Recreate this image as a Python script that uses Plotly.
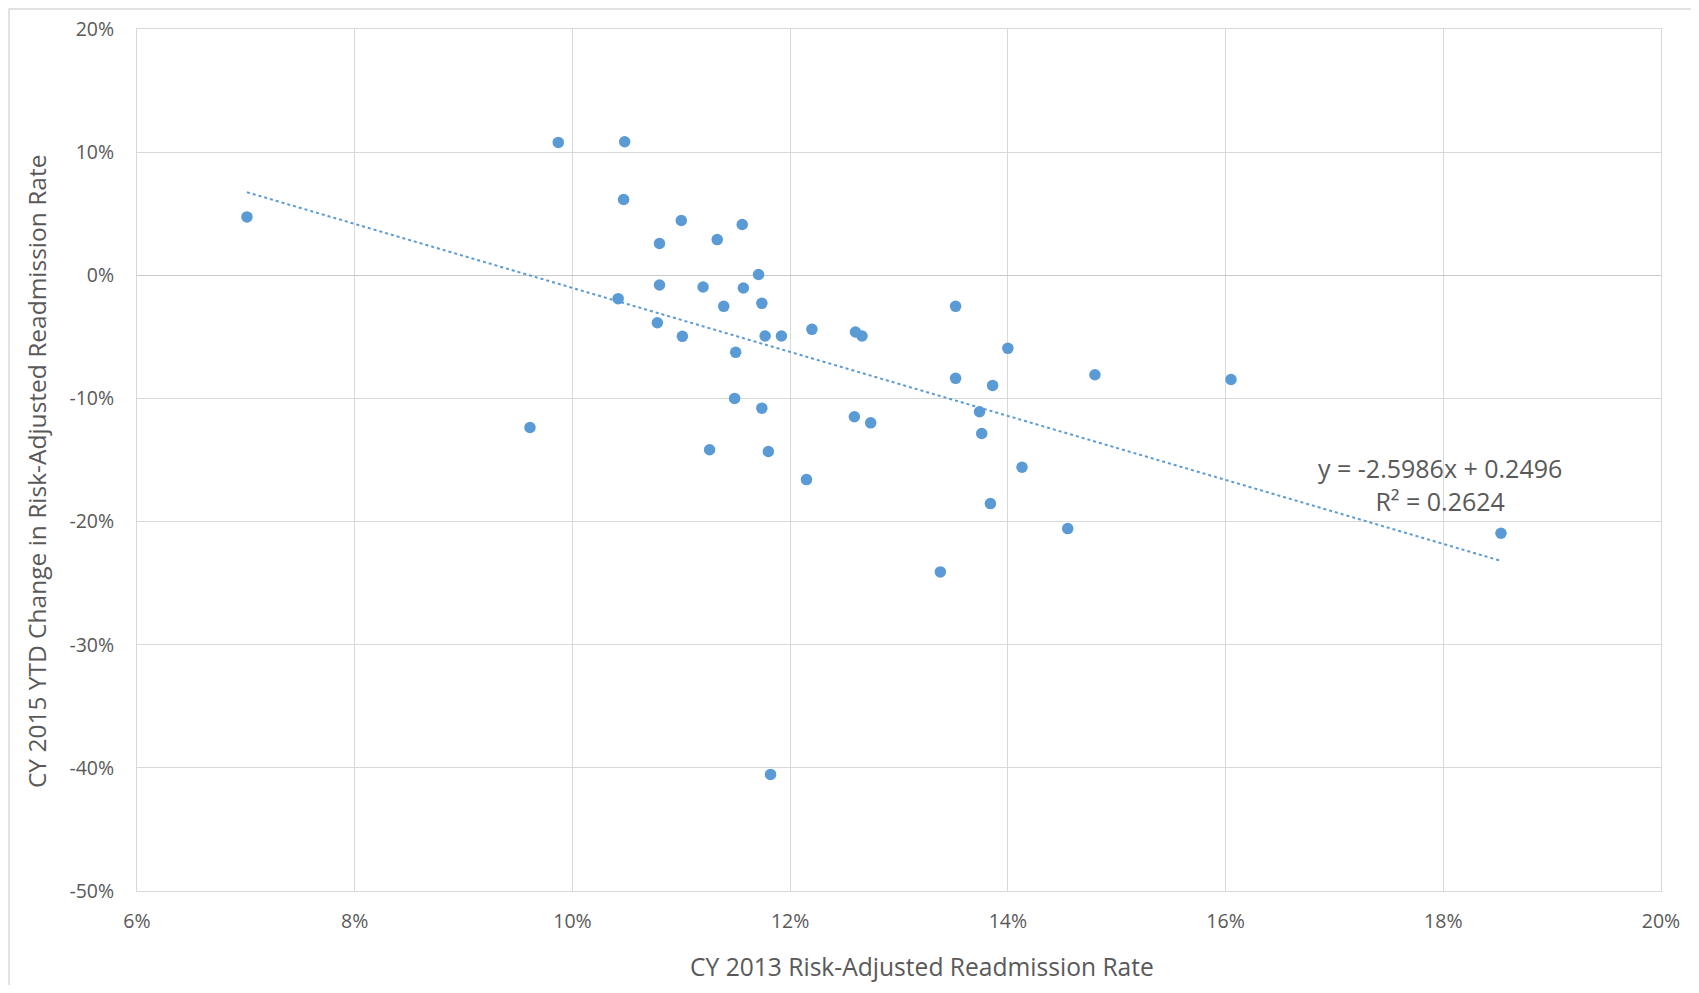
import numpy as np
import plotly.graph_objects as go

# CY 2013 risk-adjusted readmission rate (fraction)
rate_2013 = [
    0.0701, 0.0987, 0.1048, 0.1047, 0.1100, 0.1080, 0.1133, 0.1156, 0.1171,
    0.1080, 0.1120, 0.1157, 0.1042, 0.1174, 0.1139, 0.1078, 0.1101, 0.1177,
    0.1192, 0.1220, 0.1260, 0.1266, 0.1150, 0.1352, 0.1400, 0.1352, 0.1386,
    0.1480, 0.1605, 0.1149, 0.1174, 0.0961, 0.1259, 0.1274, 0.1374, 0.1376,
    0.1126, 0.1180, 0.1413, 0.1215, 0.1384, 0.1455, 0.1853, 0.1338, 0.1182,
]
# CY 2015 YTD change in risk-adjusted readmission rate (fraction)
change_2015 = [
    0.0474, 0.1079, 0.1084, 0.0615, 0.0445, 0.0258, 0.0290, 0.0412, 0.0006,
    -0.0079, -0.0095, -0.0103, -0.0190, -0.0228, -0.0252, -0.0385, -0.0496, -0.0493,
    -0.0493, -0.0439, -0.0461, -0.0493, -0.0626, -0.0252, -0.0593, -0.0837, -0.0894,
    -0.0808, -0.0846, -0.1000, -0.1079, -0.1236, -0.1149, -0.1198, -0.1108, -0.1285,
    -0.1417, -0.1431, -0.1559, -0.1659, -0.1854, -0.2057, -0.2095, -0.2409, -0.4053,
]
# Linear trendline shown on the chart
trend_slope = -2.5986
trend_intercept = 0.2496
trend_r2 = 0.2624

x_ticks = [0.06, 0.08, 0.10, 0.12, 0.14, 0.16, 0.18, 0.20]
x_labels = ["6%", "8%", "10%", "12%", "14%", "16%", "18%", "20%"]
y_ticks = [-0.5, -0.4, -0.3, -0.2, -0.1, 0.0, 0.1, 0.2]
y_labels = ["-50%", "-40%", "-30%", "-20%", "-10%", "0%", "10%", "20%"]

blue = "#5B9BD5"
grid = "#D9D9D9"
txt = "#595959"
font_family = "Open Sans, Noto Sans, DejaVu Sans, sans-serif"

tx = np.array([min(rate_2013), max(rate_2013)])
ty = trend_slope * tx + trend_intercept

fig = go.Figure()
fig.add_trace(go.Scatter(
    x=tx, y=ty, mode="lines",
    line=dict(color=blue, width=2, dash="dot"),
    hoverinfo="skip", showlegend=False,
))
fig.add_trace(go.Scatter(
    x=rate_2013, y=change_2015, mode="markers",
    marker=dict(color=blue, size=11.5, line=dict(width=0)),
    showlegend=False,
))

# page coords of plot area: left 137, right 1661, top 29.3, bottom 890.5 (body margin 8px)
PW = 1661 - 137
PH = 890.5 - 29.3
ML, MT = 129, 21

fig.update_layout(
    width=1683, height=977,
    margin=dict(l=ML, r=30, t=MT, b=94, autoexpand=False),
    paper_bgcolor="white", plot_bgcolor="white",
    font=dict(family=font_family, color=txt, size=19),
    xaxis=dict(
        range=[0.06, 0.20], tickvals=x_ticks, ticktext=x_labels,
        showgrid=True, gridcolor=grid, gridwidth=1,
        showline=True, mirror=True, linecolor=grid, linewidth=1,
        zeroline=False, ticks="", ticklabelstandoff=13, automargin=False,
        tickfont=dict(size=19.5, color=txt),
    ),
    yaxis=dict(
        range=[-0.5, 0.2], tickvals=y_ticks, ticktext=y_labels,
        showgrid=True, gridcolor=grid, gridwidth=1,
        showline=True, mirror=True, linecolor=grid, linewidth=1,
        zeroline=True, zerolinecolor="#C8C8C8", zerolinewidth=1,
        ticks="", ticklabelstandoff=18, automargin=False,
        tickfont=dict(size=19.5, color=txt),
    ),
    shapes=[dict(
        type="rect", xref="paper", yref="paper",
        x0=(1 - ML) / PW, x1=1.2, y0=-0.3, y1=1 + (MT - 1) / PH,
        line=dict(color=grid, width=1.5), fillcolor="rgba(0,0,0,0)",
        layer="below",
    )],
    annotations=[
        dict(text="CY 2013 Risk-Adjusted Readmission Rate",
             xref="paper", yref="paper", x=(921.5 - 137) / PW, y=-(966 - 890.5) / PH,
             xanchor="center", yanchor="middle", showarrow=False,
             font=dict(size=24.6, color=txt)),
        dict(text="CY 2015 YTD Change in Risk-Adjusted Readmission Rate",
             xref="paper", yref="paper", x=-(137 - 36) / PW, y=(890.5 - 471) / PH,
             xanchor="center", yanchor="middle", showarrow=False, textangle=-90,
             font=dict(size=24.5, color=txt)),
        dict(text=f"y = {trend_slope}x + {trend_intercept}<br>R² = {trend_r2}",
             xref="paper", yref="paper", x=(1440 - 137) / PW, y=(890.5 - 484) / PH,
             xanchor="center", yanchor="middle", showarrow=False, align="center",
             font=dict(size=25, color=txt)),
    ],
)

fig.write_html("out.html")
